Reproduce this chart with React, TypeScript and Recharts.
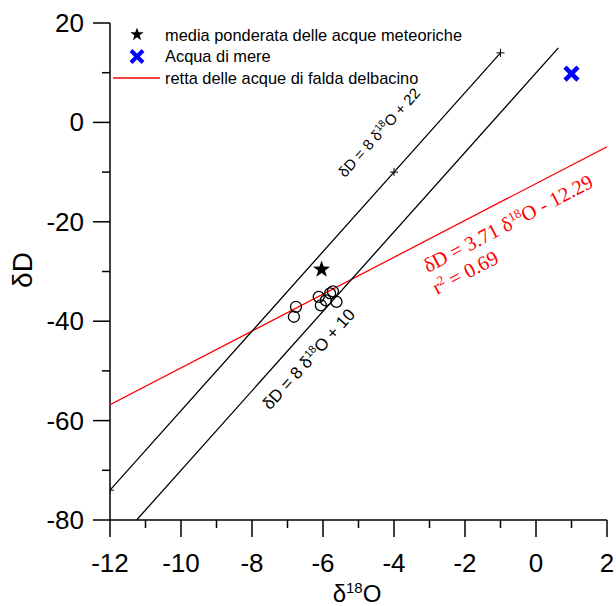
import React from "react";
import { ComposedChart, Scatter, XAxis, YAxis } from "recharts";

// axis ticks (minor + major)
const xTicks = [-12, -11, -10, -9, -8, -7, -6, -5, -4, -3, -2, -1, 0, 1, 2];
const yTicks = [-80, -70, -60, -50, -40, -30, -20, -10, 0, 10, 20];
const xMajor = [-12, -10, -8, -6, -4, -2, 0, 2];
const yMajor = [-80, -60, -40, -20, 0, 20];

// campioni acque di falda
const samples = [
  { x: -6.76, y: -37.1 },
  { x: -6.82, y: -39.1 },
  { x: -6.12, y: -35.1 },
  { x: -6.06, y: -36.8 },
  { x: -5.92, y: -35.8 },
  { x: -5.8, y: -34.4 },
  { x: -5.72, y: -34.0 },
  { x: -5.62, y: -36.1 },
];

const meteoricMean = [{ x: -6.04, y: -29.6 }];
const mereWater = [{ x: 1.0, y: 9.8 }];

// rette
const line22 = [
  { x: -12, y: -74 },
  { x: -4, y: -10 },
  { x: -1, y: 14 },
];
const line10 = [
  { x: -11.25, y: -80 },
  { x: 0.63, y: 15 },
];
const aquiferLine = [
  { x: -12, y: -56.8 },
  { x: 2, y: -4.9 },
];

const FONT = "'Liberation Sans', Arial, sans-serif";
const SERIF = "'Liberation Serif', 'Times New Roman', serif";

const XTick = (props: any) => {
  const { x, y, payload } = props;
  const v = payload.value;
  const major = xMajor.includes(v);
  return (
    <g>
      <line x1={x} x2={x} y1={y} y2={y + (major ? 17 : 8)} stroke="#000" strokeWidth={1.5} />
      {major && (
        <text x={x} y={y + 52} textAnchor="middle" fontSize={26} fontFamily={FONT} fill="#000">
          {String(v)}
        </text>
      )}
    </g>
  );
};

const YTick = (props: any) => {
  const { x, y, payload } = props;
  const v = payload.value;
  const major = yMajor.includes(v);
  return (
    <g>
      <line x1={x} x2={x - (major ? 17 : 8)} y1={y} y2={y} stroke="#000" strokeWidth={1.5} />
      {major && (
        <text x={x - 26} y={y + 9} textAnchor="end" fontSize={26} fontFamily={FONT} fill="#000">
          {String(v)}
        </text>
      )}
    </g>
  );
};

const Circle = (p: any) => (
  <circle cx={p.cx} cy={p.cy} r={5.5} fill="none" stroke="#000" strokeWidth={1.3} />
);

const starPath = (cx: number, cy: number, R: number) => {
  const r = R * 0.4;
  let d = "";
  for (let i = 0; i < 10; i++) {
    const a = (Math.PI / 5) * i - Math.PI / 2;
    const rad = i % 2 === 0 ? R : r;
    d += (i === 0 ? "M" : "L") + (cx + rad * Math.cos(a)) + "," + (cy + rad * Math.sin(a));
  }
  return d + "Z";
};

const Star = (p: any) => <path d={starPath(p.cx, p.cy, 9)} fill="#000" />;

const Cross = (p: any) => {
  const s = 6.5;
  return (
    <g stroke="#0000ff" strokeWidth={4.5}>
      <line x1={p.cx - s} y1={p.cy - s} x2={p.cx + s} y2={p.cy + s} />
      <line x1={p.cx - s} y1={p.cy + s} x2={p.cx + s} y2={p.cy - s} />
    </g>
  );
};

const Plus = (p: any) => (
  <g stroke="#000" strokeWidth={1}>
    <line x1={p.cx - 4} y1={p.cy} x2={p.cx + 4} y2={p.cy} />
    <line x1={p.cx} y1={p.cy - 4} x2={p.cx} y2={p.cy + 4} />
  </g>
);

const Nothing = () => <g />;

export default function App() {
  return (
    <div style={{ position: "absolute", left: 0, top: 0, width: 616, height: 606, background: "#fff" }}>
      <ComposedChart
        width={616}
        height={606}
        margin={{ top: 23, right: 9, bottom: 0, left: 0 }}
      >
        <XAxis
          type="number"
          dataKey="x"
          domain={[-12, 2]}
          ticks={xTicks}
          interval={0}
          height={86}
          tickSize={0}
          tickMargin={0}
          tickLine={false}
          tick={<XTick />}
          axisLine={{ stroke: "#000", strokeWidth: 1.5 }}
          allowDataOverflow
        />
        <YAxis
          type="number"
          dataKey="y"
          domain={[-80, 20]}
          ticks={yTicks}
          interval={0}
          width={110}
          tickSize={0}
          tickMargin={0}
          tickLine={false}
          tick={<YTick />}
          axisLine={{ stroke: "#000", strokeWidth: 1.5 }}
          allowDataOverflow
        />
        <Scatter
          data={aquiferLine}
          line={{ stroke: "#ff0000", strokeWidth: 1.3 }}
          shape={<Nothing />}
          isAnimationActive={false}
        />
        <Scatter
          data={line10}
          line={{ stroke: "#000", strokeWidth: 1.3 }}
          shape={<Nothing />}
          isAnimationActive={false}
        />
        <Scatter
          data={line22}
          line={{ stroke: "#000", strokeWidth: 1.3 }}
          shape={<Plus />}
          isAnimationActive={false}
        />
        <Scatter data={samples} shape={<Circle />} isAnimationActive={false} />
        <Scatter data={meteoricMean} shape={<Star />} isAnimationActive={false} />
        <Scatter data={mereWater} shape={<Cross />} isAnimationActive={false} />
      </ComposedChart>

      <svg
        width={616}
        height={606}
        style={{ position: "absolute", left: 0, top: 0, pointerEvents: "none" }}
      >
        {/* legenda */}
        <g fontFamily={FONT} fontSize={16.4} fill="#000">
          <path d={starPath(137, 34.5, 7)} fill="#000" />
          <text x={165} y={40.5}>media ponderata delle acque meteoriche</text>
          <g stroke="#0000ff" strokeWidth={4}>
            <line x1={131} y1={50.5} x2={143} y2={62.5} />
            <line x1={131} y1={62.5} x2={143} y2={50.5} />
          </g>
          <text x={165} y={61.5}>Acqua di mere</text>
          <line x1={113} y1={78} x2={160} y2={78} stroke="#ff0000" strokeWidth={1.3} />
          <text x={165} y={83.5}>retta delle acque di falda delbacino</text>
        </g>

        {/* etichette rette */}
        <text
          transform="translate(383,136) rotate(-48)"
          textAnchor="middle"
          fontFamily={FONT}
          fontSize={15}
          fill="#000"
        >
          δD = 8 δ<tspan dy={-6} fontSize={10}>18</tspan>
          <tspan dy={6}>O + 22</tspan>
        </text>
        <text
          transform="translate(313,363) rotate(-48)"
          textAnchor="middle"
          fontFamily={FONT}
          fontSize={17}
          fill="#000"
        >
          δD = 8 δ<tspan dy={-6} fontSize={11}>18</tspan>
          <tspan dy={6}>O + 10</tspan>
        </text>
        <g fontFamily={SERIF} fontSize={20.5} fill="#ff0000">
          <text transform="translate(428,273) rotate(-27.5)">
            δD = 3.71 δ<tspan dy={-7} fontSize={13}>18</tspan>
            <tspan dy={7}>O - 12.29</tspan>
          </text>
          <text transform="translate(437,295) rotate(-27.5)">
            r<tspan dy={-7} fontSize={13}>2</tspan>
            <tspan dy={7}> = 0.69</tspan>
          </text>
        </g>

        {/* titoli assi */}
        <text x={357} y={602} textAnchor="middle" fontFamily={FONT} fontSize={24} fill="#000">
          δ<tspan dy={-9} fontSize={15}>18</tspan>
          <tspan dy={9}>O</tspan>
        </text>
        <text
          transform="translate(32,270) rotate(-90)"
          textAnchor="middle"
          fontFamily={FONT}
          fontSize={28}
          fill="#000"
        >
          δD
        </text>
      </svg>
    </div>
  );
}
